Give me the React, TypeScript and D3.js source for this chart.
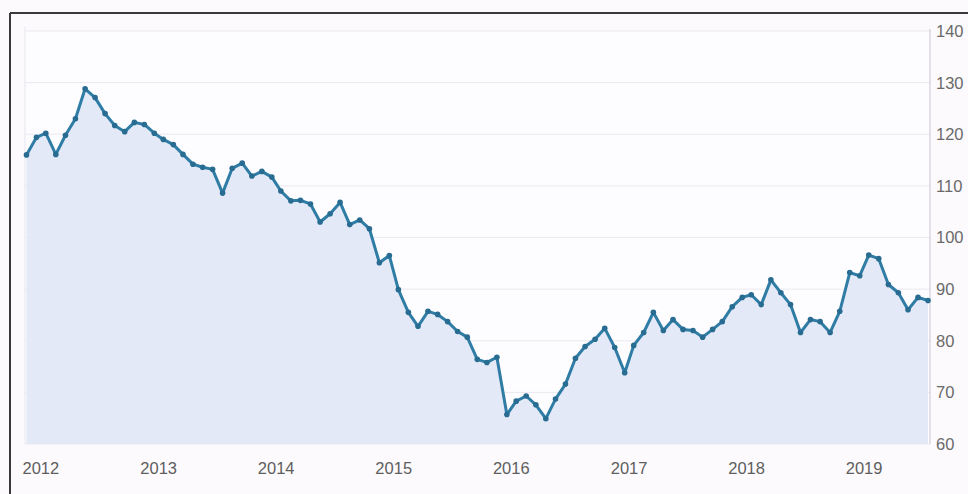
import React from "react";
import * as d3 from "d3";

// Monthly values, Jan 2012 – Sep 2019
const startYear = 2012;
const values2012 = [116.0, 119.4, 120.2, 116.1, 119.8, 123.0, 128.8, 127.1, 124.0, 121.7, 120.5, 122.3];
const values2013 = [121.9, 120.2, 119.0, 118.0, 116.1, 114.2, 113.6, 113.2, 108.6, 113.4, 114.4, 111.9];
const values2014 = [112.8, 111.7, 109.0, 107.1, 107.2, 106.5, 103.0, 104.6, 106.8, 102.5, 103.4, 101.7];
const values2015 = [95.1, 96.5, 89.9, 85.5, 82.8, 85.7, 85.1, 83.7, 81.8, 80.7, 76.4, 75.8];
const values2016 = [76.8, 65.7, 68.3, 69.3, 67.6, 64.9, 68.7, 71.6, 76.6, 78.9, 80.3, 82.4];
const values2017 = [78.7, 73.8, 79.1, 81.6, 85.5, 82.0, 84.1, 82.2, 82.0, 80.7, 82.2, 83.7];
const values2018 = [86.6, 88.4, 88.9, 87.0, 91.8, 89.3, 87.0, 81.6, 84.1, 83.7, 81.6, 85.7];
const values2019 = [93.2, 92.6, 96.6, 95.9, 90.9, 89.3, 86.0, 88.4, 87.8];

const yearLabels = ["2012", "2013", "2014", "2015", "2016", "2017", "2018", "2019"];
const yTicks = [60, 70, 80, 90, 100, 110, 120, 130, 140];

const allValues = [
  ...values2012, ...values2013, ...values2014, ...values2015,
  ...values2016, ...values2017, ...values2018, ...values2019,
];
const data = allValues.map((v, i) => ({ date: new Date(startYear, i, 1), value: v }));

const W = 968;
const H = 494;
const plotLeft = 25;
const plotRight = 930;
const plotTop = 31;
const plotBottom = 444;

export default function App() {
  const x = d3
    .scaleTime()
    .domain([data[0].date, data[data.length - 1].date])
    .range([26.5, 928]);
  const y = d3.scaleLinear().domain([60, 140]).range([plotBottom, plotTop]);

  const line = d3
    .line<{ date: Date; value: number }>()
    .x((d) => x(d.date))
    .y((d) => y(d.value));
  const area = d3
    .area<{ date: Date; value: number }>()
    .x((d) => x(d.date))
    .y0(plotBottom)
    .y1((d) => y(d.value));

  const font = "'Liberation Sans', Arial, sans-serif";

  return (
    <svg
      width={W}
      height={H}
      style={{ position: "absolute", left: 0, top: 0, background: "#fcfafc" }}
    >
      <rect x={plotLeft} y={plotTop} width={plotRight - plotLeft} height={plotBottom - plotTop} fill="#fdfcfe" />
      {yTicks.map((t) => (
        <line key={t} x1={plotLeft} x2={plotRight} y1={y(t)} y2={y(t)} stroke="#ebe9f0" strokeWidth={1} />
      ))}
      <line x1={plotLeft} x2={plotLeft} y1={plotTop - 4} y2={plotBottom} stroke="#e6e6ee" strokeWidth={1} />
      <path d={area(data) || ""} fill="#e4e9f7" />
      <line x1={plotRight} x2={plotRight} y1={plotTop - 2} y2={plotBottom} stroke="#c8c6d0" strokeWidth={1} />
      <path d={line(data) || ""} fill="none" stroke="#2f7ca5" strokeWidth={3} strokeLinejoin="round" />
      {data.map((d, i) => (
        <circle key={i} cx={x(d.date)} cy={y(d.value)} r={2.8} fill="#296c92" />
      ))}
      {yTicks.map((t) => (
        <text key={t} x={936} y={y(t)} dy="0.36em" fontFamily={font} fontSize={16.5} fill="#6a6a6a">
          {t}
        </text>
      ))}
      {yearLabels.map((lab) => (
        <text
          key={lab}
          x={x(new Date(+lab, 0, 1)) - 4}
          y={474}
          fontFamily={font}
          fontSize={16.5}
          fill="#5e5e5e"
        >
          {lab}
        </text>
      ))}
      <line x1={10} x2={W} y1={13} y2={13} stroke="#3a3a3a" strokeWidth={2} />
      <line x1={10} x2={10} y1={13} y2={H} stroke="#3a3a3a" strokeWidth={2} />
    </svg>
  );
}
